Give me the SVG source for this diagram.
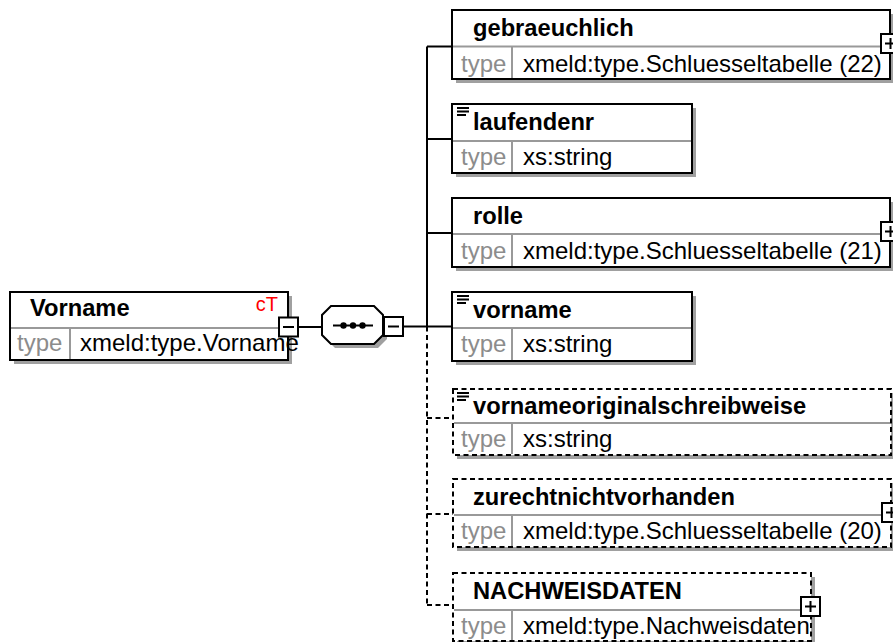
<svg xmlns="http://www.w3.org/2000/svg" width="893" height="642" viewBox="0 0 893 642">
  <style>
    .shadow { fill: #a0a0a0; }
    .box { fill: #ffffff; stroke: #000000; stroke-width: 2; }
    .opt { fill: none; stroke: #000000; stroke-width: 2; stroke-dasharray: 5 3.5; }
    .bg { fill: #ffffff; }
    .sep { stroke: #999999; stroke-width: 2; fill: none; }
    .conn { stroke: #000000; stroke-width: 2; fill: none; }
    .conn-opt { stroke: #000000; stroke-width: 2; fill: none; stroke-dasharray: 5 3.5; }
    .name { font-family: "Liberation Sans", Arial, sans-serif; font-size: 23.7px; font-weight: bold; fill: #000000; }
    .lbl { font-family: "Liberation Sans", Arial, sans-serif; font-size: 24px; fill: #8c8c8c; }
    .val { font-family: "Liberation Sans", Arial, sans-serif; font-size: 24px; fill: #000000; }
    .ct { font-family: "Liberation Sans", Arial, sans-serif; font-size: 20px; fill: #ff0000; }
    .btn { fill: #ffffff; stroke: #000000; stroke-width: 2; }
    .glyph { stroke: #000000; stroke-width: 2; fill: none; }
  </style>
  <defs>
    <!-- simple-content marker (three bars) -->
    <g id="simple">
      <path d="M0 1 H12 M0 4.5 H12 M0 8 H9" stroke="#000000" stroke-width="2" fill="none"/>
    </g>
    <!-- expand button -->
    <g id="plus">
      <rect class="btn" x="0" y="0" width="19" height="19"/>
      <path class="glyph" d="M4 9.5 H15 M9.5 4 V15"/>
    </g>
    <!-- collapse button -->
    <g id="minus">
      <rect class="btn" x="0" y="0" width="19" height="19"/>
      <path class="glyph" d="M4 9.5 H15"/>
    </g>
  </defs>

  <!-- connectors -->
  <g id="connectors">
    <path class="conn" d="M298 327 H322"/>
    <path class="conn" d="M403 326.5 H427"/>
    <path class="conn" d="M427 46.5 V326.5"/>
    <path class="conn-opt" d="M427 326.5 V605"/>
    <path class="conn" d="M427 46.5 H452"/>
    <path class="conn" d="M427 139 H452"/>
    <path class="conn" d="M427 233 H452"/>
    <path class="conn" d="M427 326.5 H452"/>
    <path class="conn-opt" d="M427 418 H453"/>
    <path class="conn-opt" d="M427 514 H453"/>
    <path class="conn-opt" d="M427 605 H453"/>
  </g>

  <!-- root complex type element -->
  <g id="node-Vorname">
    <rect class="shadow" x="14" y="296" width="278" height="68"/>
    <rect class="box" x="10" y="292" width="278" height="68"/>
    <path class="sep" d="M11 328 H287 M70 328 V359"/>
    <text class="name" x="30" y="316">Vorname</text>
    <text class="ct" x="278" y="311" text-anchor="end">cT</text>
    <text class="lbl" x="17" y="351">type</text>
    <use href="#minus" x="279" y="317.5"/>
    <text class="val" x="80" y="351">xmeld:type.Vorname</text>
  </g>

  <!-- sequence compositor -->
  <g id="sequence">
    <polygon class="shadow" points="335,310 378,310 387,319 387,339 378,348 335,348 326,339 326,319"/>
    <polygon class="box" points="331,306 374,306 383,315 383,335 374,344 331,344 322,335 322,315"/>
    <path class="glyph" d="M333 325.5 H373"/>
    <circle cx="343.5" cy="325.5" r="3.2" fill="#000000"/>
    <circle cx="353" cy="325.5" r="3.2" fill="#000000"/>
    <circle cx="362.5" cy="325.5" r="3.2" fill="#000000"/>
    <use href="#minus" x="384" y="317"/>
  </g>

  <g id="node-gebraeuchlich">
    <rect class="shadow" x="456" y="14" width="438" height="69"/>
    <rect class="box" x="452" y="10" width="438" height="69"/>
    <path class="sep" d="M453 46.5 H889 M512 46.5 V78"/>
    <text class="name" x="473" y="36">gebraeuchlich</text>
    <text class="lbl" x="461" y="72">type</text>
    <text class="val" x="523" y="72">xmeld:type.Schluesseltabelle (22)</text>
    <use href="#plus" x="881" y="34"/>
  </g>

  <g id="node-laufendenr">
    <rect class="shadow" x="456" y="108" width="240" height="69"/>
    <rect class="box" x="452" y="104" width="240" height="69"/>
    <path class="sep" d="M453 141 H691 M512 141 V172"/>
    <use href="#simple" x="457" y="107"/>
    <text class="name" x="473" y="130">laufendenr</text>
    <text class="lbl" x="461" y="165">type</text>
    <text class="val" x="523" y="165">xs:string</text>
  </g>

  <g id="node-rolle">
    <rect class="shadow" x="456" y="202" width="438" height="69"/>
    <rect class="box" x="452" y="198" width="438" height="69"/>
    <path class="sep" d="M453 234 H889 M512 234 V266"/>
    <text class="name" x="473" y="224">rolle</text>
    <text class="lbl" x="461" y="259">type</text>
    <text class="val" x="523" y="259">xmeld:type.Schluesseltabelle (21)</text>
    <use href="#plus" x="881" y="222"/>
  </g>

  <g id="node-vorname">
    <rect class="shadow" x="456" y="296" width="240" height="69"/>
    <rect class="box" x="452" y="292" width="240" height="69"/>
    <path class="sep" d="M453 328 H691 M512 328 V360"/>
    <use href="#simple" x="457" y="295"/>
    <text class="name" x="473" y="318">vorname</text>
    <text class="lbl" x="461" y="352">type</text>
    <text class="val" x="523" y="352">xs:string</text>
  </g>

  <g id="node-vornameoriginalschreibweise">
    <rect class="shadow" x="457" y="393" width="438" height="66"/>
    <rect class="bg" x="453" y="389" width="438" height="66"/>
    <path class="sep" d="M454 423 H890 M512 423 V454"/>
    <rect class="opt" x="453" y="389" width="438" height="66"/>
    <use href="#simple" x="457" y="392"/>
    <text class="name" x="473" y="414">vornameoriginalschreibweise</text>
    <text class="lbl" x="461" y="447">type</text>
    <text class="val" x="523" y="447">xs:string</text>
  </g>

  <g id="node-zurechtnichtvorhanden">
    <rect class="shadow" x="457" y="483" width="438" height="68"/>
    <rect class="bg" x="453" y="479" width="438" height="68"/>
    <path class="sep" d="M454 515 H890 M512 515 V546"/>
    <rect class="opt" x="453" y="479" width="438" height="68"/>
    <text class="name" x="473" y="505">zurechtnichtvorhanden</text>
    <text class="lbl" x="461" y="539">type</text>
    <text class="val" x="523" y="539">xmeld:type.Schluesseltabelle (20)</text>
    <use href="#plus" x="882" y="503"/>
  </g>

  <g id="node-NACHWEISDATEN">
    <rect class="shadow" x="457" y="577" width="358" height="68"/>
    <rect class="bg" x="453" y="573" width="358" height="68"/>
    <path class="sep" d="M454 610 H810 M512 610 V640"/>
    <rect class="opt" x="453" y="573" width="358" height="68"/>
    <text class="name" x="473" y="599">NACHWEISDATEN</text>
    <text class="lbl" x="461" y="634">type</text>
    <text class="val" x="523" y="634">xmeld:type.Nachweisdaten</text>
    <use href="#plus" x="801" y="597"/>
  </g>
</svg>
